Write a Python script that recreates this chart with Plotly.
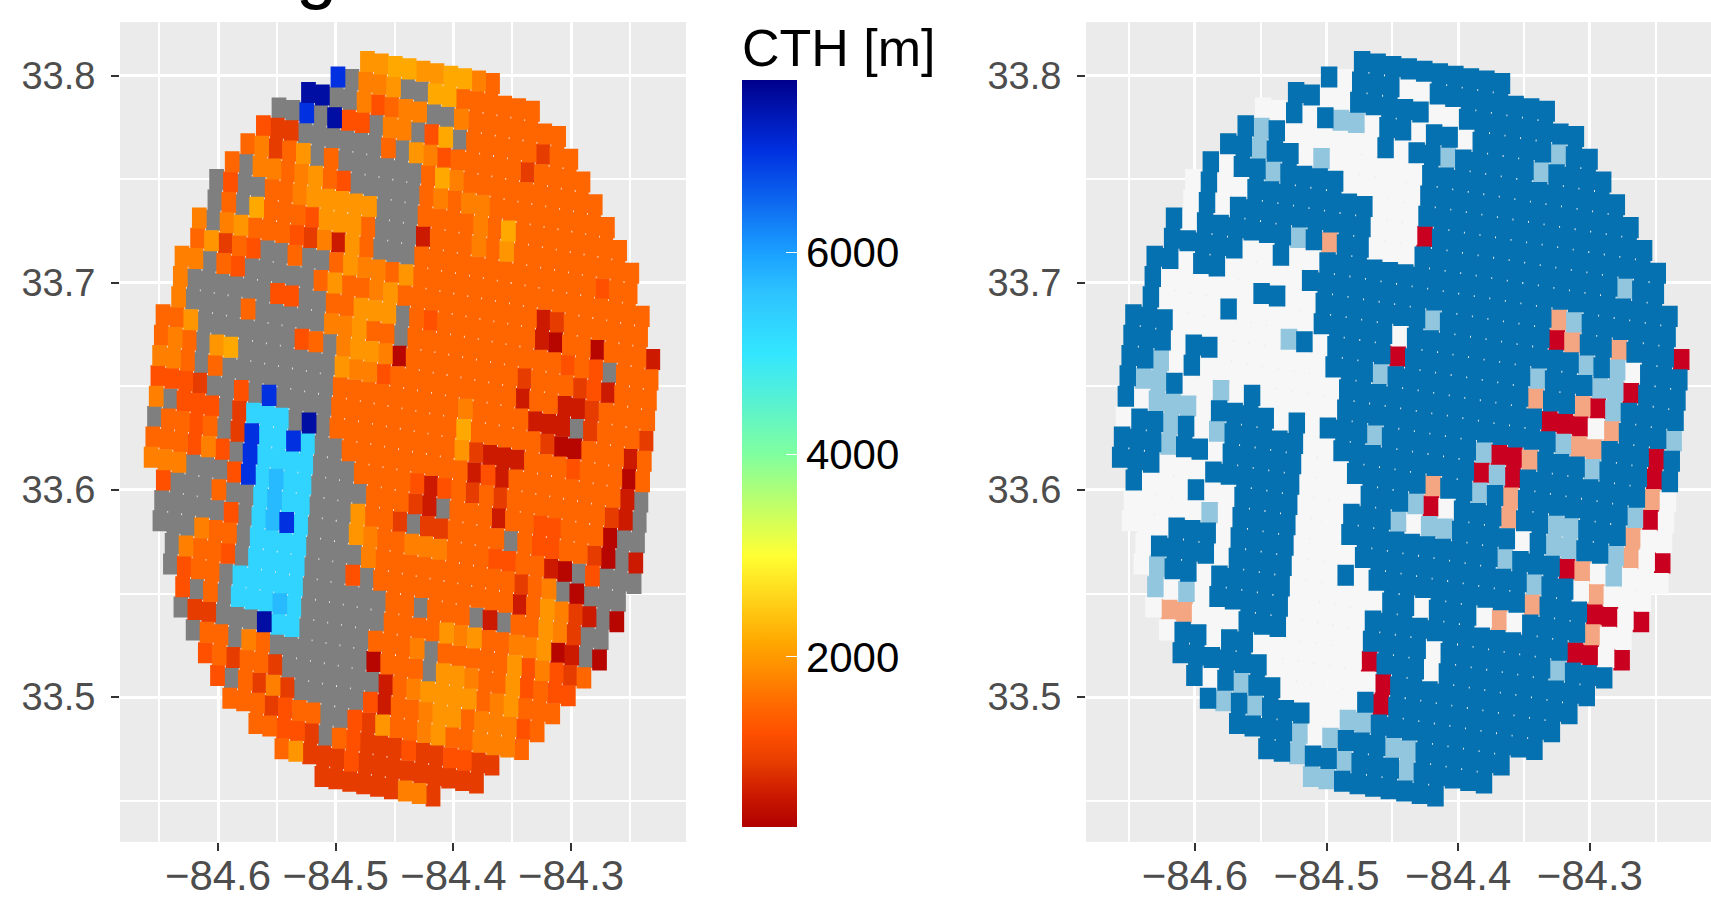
import plotly.graph_objects as go
from plotly.colors import sample_colorscale

# Grid geometry of the scan (degrees)
LON0, LAT0 = -84.4730, 33.8069
LON_DI, LON_DJ = 0.01181, -0.001444
LAT_DI, LAT_DJ = -0.001179, -0.00983
TILE_W, TILE_H = 0.0125, 0.01015

ROW_START = [0,-2,-4,-6,-7,-8,-9,-10,-10,-11,-11,-12,-12,-12,-13,-13,-13,-13,-13,-13,-13,-13,
             -12,-12,-12,-11,-11,-10,-10,-9,-8,-7,-6,-4,-2,1]

CTH_ROWS = [
 "7788778865",
 "bg667gg88555555",
 "nngg64566gg65555555",
 "ggbgn44g66g48g"+"55555"+"355",
 "433gggggg"+"5g7645"+"5555"+"3"+"5555",
 "5635"+"7g5"+"gggggg"+"586"+"5555555555",
 "5g6656754"+"ggggg"+"56566"+"555555555",
 "g4gg55"+"677777"+"ggg"+"55556"+"58"+"55555555",
 "g5g8555"+"4777"+"5"+"ggg"+"2"+"555"+"6"+"5"+"7"+"555555555",
 "6g67555"+"4362"+"75"+"ggg"+"5555555555555"+"455",
 "57354gg5gg5"+"7665"+"7"+"55555555555555555",
 "66g54"+"ggggg"+"57"+"5567"+"5"+"555555555"+"23"+"555555",
 "6gggggg44gg"+"55777"+"g54"+"5555555"+"21"+"55"+"1"+"555"+"2",
 "6gggg5ggggg"+"66755"+"g"+"55555555555"+"454"+"g"+"555",
 "557ggggggg"+"45g"+"6776"+"1"+"55555555"+"3"+"555"+"342"+"555",
 "565g78"+"ggggggg"+"7664"+"5"+"55555555"+"2"+"55"+"223"+"5555",
 "665g5"+"gggggggg"+"555555555"+"6"+"5555"+"222g3"+"555"+"3",
 "4443gg4gb"+"gggg"+"555555555"+"8"+"55555"+"311"+"555"+"25",
 "6g444g3cccgng"+"555555555"+"7"+"3222"+"555"+"4"+"555"+"15",
 "g5545g3bccbcgg"+"555555555"+"242"+"55555555"+"2g",
 "555464gbccccggg"+"5555"+"424"+"5"+"353"+"5555555"+"32g",
 "666ggg4bcCcc"+"gggg"+"555"+"32g"+"555"+"2"+"55"+"44"+"555"+"1gg",
 "4ggg5ggcCcc"+"ggg"+"7"+"55"+"3g33"+"5555"+"g5"+"44"+"55"+"31g2",
 "ggggg4gcCbc"+"ggg"+"76"+"55"+"666"+"555"+"44"+"55"+"21g4"+"ggg",
 "ggg655gcccc"+"gggg"+"65"+"555555555"+"3"+"56"+"g1ggg",
 "g6554gcccc"+"ggg"+"4g5"+"555555555"+"2"+"576"+"32g1",
 "g455gccccc"+"g"+"ggggg"+"55g"+"555"+"g2g"+"55"+"76"+"3gg",
 "4g5gcccCc"+"gggggg"+"5555"+"767"+"55"+"667"+"12g1",
 "g33gggncc"+"ggggg"+"555"+"6g"+"55555"+"746"+"435",
 "g55g65g"+"gggggg"+"1"+"555"+"g"+"776"+"55"+"745"+"44",
 "453553"+"ggggggg"+"2"+"56"+"7777"+"567"+"555",
 "4g5363"+"ggggg"+"42"+"55"+"677"+"5666"+"45",
 "5553455"+"gg"+"437"+"55"+"67"+"55"+"666"+"5",
 "55443g543334334433",
 "573334333333333",
 "333333663",
]

CLASS_ROWS = [
 "bbbbbbbbbb",
 "bwbbbww"+"bbbbbbbb",
 "bbwwbbbbbww"+"bbbbbbbb",
 "wwbwbllwbbwbbw"+"bbbbb"+"lbb",
 "blb"+"wwwwww"+"bwbblb"+"bbbb"+"l"+"bbbb",
 "bblbbwl"+"wwwwww"+"bbbbbbbbbbbbb",
 "bwbblbbbb"+"wwwww"+"bbbbbbbbbbbbbb",
 "wbwwbb"+"bbbbbb"+"www"+"bbbbbbbbbbbbbbb",
 "wbwb"+"bbbbbbbb"+"www"+"r"+"bbbbbbbbbbbbbbb",
 "bw"+"bbbbbb"+"lbpbb"+"www"+"bbbbbbbbbbbbb"+"lbb",
 "bbbbbwwbww"+"bbbbbb"+"bbbbbbbbbbbbbbbbb",
 "bbwbb"+"wwwww"+"bbbbbbbbbbbbbbbb"+"pl"+"bbbbbb",
 "b"+"wwwwww"+"bbww"+"bbbbbbb"+"l"+"bbbbbbb"+"rp"+"bb"+"p"+"bbb"+"r",
 "b"+"wwww"+"b"+"wwwww"+"bbbbb"+"w"+"bbbbbbbbbbb"+"lblw"+"bbb",
 "bbb"+"wwwwwww"+"lbw"+"bbbb"+"r"+"bbbbbbbb"+"l"+"bbb"+"llr"+"bbb",
 "bbbwbb"+"wwwwwww"+"bbbl"+"bbbbbbbbb"+"p"+"bb"+"prl"+"bbbb",
 "bblwb"+"wwwwwwwww"+"bbbbbbbbbbbbb"+"rrrwp"+"bbb"+"l",
 "bllbwwlwb"+"wwwww"+"bbbbbbbbbbbbbb"+"lpp"+"bbb"+"rb",
 "bwlllwbbbbwbw"+"bbb"+"l"+"bbbbbb"+"lrrp"+"bbb"+"l"+"bbb"+"rb",
 "wbblbwl"+"bbbbb"+"ww"+"bbbbbbbbb"+"rlr"+"bbbbbbbb"+"pw",
 "bbblbbw"+"bbbbb"+"www"+"bbbbb"+"p"+"bb"+"lbp"+"bbbbbbb"+"lrw",
 "bbbwww"+"bbbbbb"+"wwww"+"bbb"+"lrw"+"bbb"+"p"+"bb"+"ll"+"bbb"+"pww",
 "bwwwbww"+"bbbb"+"www"+"bbb"+"lwll"+"bbbb"+"wb"+"ll"+"bb"+"lpwr",
 "wwwww"+"lw"+"bbbb"+"www"+"bbbbbbbbbb"+"l"+"bbb"+"rpwl"+"www",
 "wwwbbbw"+"bbbb"+"wwww"+"bbbbbbbbbbb"+"l"+"bb"+"wp"+"www",
 "wbbbbw"+"bbbb"+"www"+"bw"+"bbbbbbbbbb"+"p"+"bbb"+"rrwr",
 "wlbbw"+"bbbbb"+"wwwwww"+"bbw"+"bbb"+"wpw"+"bbbb"+"pww",
 "lwlw"+"bbbbb"+"wwwww"+"bbbbbbbbbbbbb"+"rrwr",
 "wppwww"+"bbb"+"wwwww"+"bbbb"+"w"+"bbbbbbb"+"l"+"bbb",
 "wbbwbb"+"wwwwwww"+"r"+"bbb"+"w"+"bbbbbbbbbb",
 "bbbbbb"+"wwwwwww"+"r"+"bbbbbbbbbbbb",
 "bwblbb"+"wwwww"+"br"+"bbbbbbbbbbb",
 "blbl"+"bbb"+"ww"+"ll"+"bbbbbbbbbbb",
 "bbbb"+"lwl"+"bbb"+"ll"+"bbbbbb",
 "bblbblbbblbbbbb",
 "llbbbbbbb",
]

# CTH value [m] for each code of CTH_ROWS; g = no value
CTH_BY_CODE = {"1":400,"2":650,"3":950,"4":1250,"5":1500,"6":1750,"7":1950,"8":2150,
               "c":5300,"C":5700,"b":7000,"n":7500}
CB_MIN, CB_MAX = 320, 7700
CB_TICKS = [2000, 4000, 6000]
CB_STOPS = [(320,"#B00000"),(650,"#CC1A00"),(950,"#E63C00"),(1250,"#FF5000"),(1500,"#FF6600"),
            (1750,"#FF8000"),(1950,"#FF9500"),(2150,"#FFA800"),(3000,"#FFFF33"),(4000,"#80FF9F"),
            (5000,"#33E6FF"),(5600,"#2DC3FF"),(6000,"#1A9FFF"),(7000,"#0030E0"),(7700,"#00008B")]
SCALE = [[(v-CB_MIN)/(CB_MAX-CB_MIN), c] for v,c in CB_STOPS]
NA_COLOR = "#7F7F7F"
CLASS_COLORS = {"r":"#CA0020","p":"#F4A582","w":"#F7F7F7","l":"#92C5DE","b":"#0571B0"}

W, H = 1711, 900
TICK_X = [-84.6,-84.5,-84.4,-84.3]
TICK_Y = [33.5,33.6,33.7,33.8]
LEFT_XR = [-84.6833,-84.2023]
RIGHT_XR = [-84.6828,-84.2079]
YR = [33.430,33.826]

def tiles(rows, code):
    xs, ys = [], []
    for j,(s,row) in enumerate(zip(ROW_START, rows)):
        for k,ch in enumerate(row):
            if ch != code: continue
            i = s+k
            lon = LON0+LON_DI*i+LON_DJ*j
            lat = LAT0+LAT_DI*i+LAT_DJ*j
            l,r = lon-TILE_W/2, lon+TILE_W/2
            b,t = lat-TILE_H/2, lat+TILE_H/2
            xs += [l,r,r,l,l,None]
            ys += [b,b,t,t,b,None]
    return xs, ys

fig = go.Figure()
def add(rows, code, color, xa, ya):
    xs, ys = tiles(rows, code)
    if xs:
        fig.add_trace(go.Scatter(x=xs,y=ys,mode="lines",fill="toself",fillcolor=color,
                                 line=dict(width=0),hoverinfo="skip",showlegend=False,xaxis=xa,yaxis=ya))

add(CTH_ROWS,"g",NA_COLOR,"x","y")
for code,val in CTH_BY_CODE.items():
    add(CTH_ROWS,code,sample_colorscale(SCALE,[(val-CB_MIN)/(CB_MAX-CB_MIN)])[0],"x","y")
for code,color in CLASS_COLORS.items():
    add(CLASS_ROWS,code,color,"x2","y2")

# colour bar carrier
fig.add_trace(go.Scatter(x=[None,None],y=[None,None],mode="markers",showlegend=False,xaxis="x",yaxis="y",
    marker=dict(color=[CB_MIN,CB_MAX],cmin=CB_MIN,cmax=CB_MAX,colorscale=SCALE,showscale=True,
        colorbar=dict(x=742/W,xanchor="left",y=1-80/H,yanchor="top",thickness=55,thicknessmode="pixels",
            len=747,lenmode="pixels",xpad=0,ypad=0,outlinewidth=0,tickvals=CB_TICKS,ticks="inside",
            ticklen=11,tickcolor="white",tickwidth=1,tickprefix="\u2006",
            tickfont=dict(family="Liberation Sans",size=42,color="black")))))

def xaxis(dom,rng,ya):
    return dict(domain=dom,range=rng,anchor=ya,tickvals=TICK_X,tickformat=".1f",ticks="outside",ticklen=8,tickwidth=2,
                tickcolor="#333333",tickfont=dict(family="Liberation Sans",size=42,color="#4D4D4D"),showgrid=True,
                gridcolor="white",gridwidth=3,zeroline=False,automargin=False,ticklabelstandoff=-11,
                showline=False,minor=dict(tickvals=[-84.65,-84.55,-84.45,-84.35,-84.25],showgrid=True,
                gridcolor="white",gridwidth=1.5,ticks=""))
def yaxis(rng,xa):
    return dict(domain=[1-842/H,1-22/H],range=rng,anchor=xa,tickvals=TICK_Y,tickformat=".1f",ticks="outside",ticklen=8,tickwidth=2,
                tickcolor="#333333",tickfont=dict(family="Liberation Sans",size=38,color="#4D4D4D"),showgrid=True,
                gridcolor="white",gridwidth=3,zeroline=False,showline=False,automargin=False,ticklabelstandoff=8,
                minor=dict(tickvals=[33.45,33.55,33.65,33.75],showgrid=True,gridcolor="white",gridwidth=1.5,ticks=""))

fig.update_layout(width=W,height=H,margin=dict(l=0,r=0,t=0,b=0),paper_bgcolor="white",plot_bgcolor="#EBEBEB",
    xaxis=xaxis([120/W,686/W],LEFT_XR,"y"),yaxis=yaxis(YR,"x"),
    xaxis2=xaxis([1086/W,1],RIGHT_XR,"y2"),yaxis2=yaxis(YR,"x2"),
    annotations=[
      dict(text="CTH [m]",xref="paper",yref="paper",x=741/W,y=1-78/H,xanchor="left",yanchor="bottom",showarrow=False,
           font=dict(family="Liberation Sans",size=52,color="black"),borderpad=0),
      dict(text="g",xref="paper",yref="paper",x=316/W,y=1-12/H,xanchor="center",yanchor="bottom",showarrow=False,
           font=dict(family="Liberation Sans",size=74,color="black"),borderpad=0),
    ])

fig.write_html("out.html",config={"displayModeBar":False},
    post_script="document.body.style.margin='0';document.body.style.overflow='hidden';")
